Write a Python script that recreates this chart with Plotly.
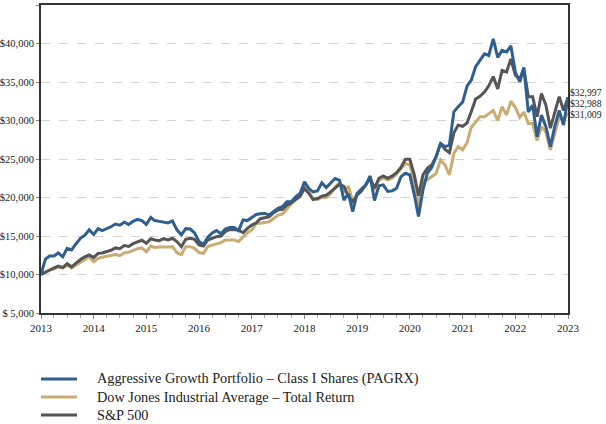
import pandas as pd
import plotly.graph_objects as go

dates = pd.date_range(start="2013-01-01", periods=121, freq="MS")

pagrx = [10000, 12000, 12400, 12400, 12800, 12300, 13400, 13200, 14000, 14700, 15100, 15800,
         15200, 15950, 15700, 15950, 16200, 16550, 16400, 16800, 16500, 16900, 17150, 17000,
         16500, 17400, 17000, 16900, 16850, 16700, 16950, 15800, 15150, 15950, 15900, 15400,
         14300, 13900, 14800, 15400, 15700, 15300, 15900, 16100, 16100, 15700, 17100, 17000,
         17400, 17800, 17900, 17930, 17720, 18150, 18580, 18800, 19440, 19440, 20090, 20520,
         22030, 21160, 20730, 20860, 21900, 21300, 21810, 22460, 22240, 19660, 20520, 18150,
         20520, 21160, 21600, 22800, 19610, 21510, 21640, 20780, 20860, 21210, 22720, 23150,
         22930, 20350, 17540, 21000, 23150, 23920, 25300, 27030, 26600, 26810, 31120, 31800,
         32400, 34500, 35200, 37000, 37800, 38650, 38450, 40600, 38200, 39100, 38900, 39700,
         36300, 35000, 36900, 31100, 32000, 27900, 30700, 29200, 26600, 29200, 31300, 29400,
         32997]

djia = [10000, 10300, 10600, 10750, 10950, 10850, 11200, 10850, 11200, 11600, 11950, 12300,
        11650, 12100, 12250, 12350, 12500, 12600, 12450, 12800, 12900, 13150, 13350, 13450,
        12950, 13700, 13520, 13570, 13620, 13580, 13620, 12830, 12580, 13620, 13620, 13400,
        12850, 12760, 13620, 13840, 13970, 14140, 14480, 14480, 14480, 14270, 14910, 15430,
        15780, 16640, 16650, 16720, 16850, 17280, 17720, 17850, 18580, 19140, 19740, 20090,
        21470, 20600, 19870, 19740, 20000, 20000, 20520, 21380, 21900, 20730, 21470, 19440,
        20520, 21160, 21600, 22590, 20990, 22280, 22500, 22280, 22500, 23060, 23790, 24440,
        24220, 22070, 18840, 22070, 22280, 22720, 23150, 24870, 24220, 22930, 25730, 26600,
        26200, 27150, 29100, 29800, 30500, 30500, 30900, 31300, 30000, 31800, 30700, 32500,
        31700, 30400, 31100, 29600, 29600, 27400, 29200, 28500, 26200, 28500, 30500, 30000,
        31009]

sp500 = [10000, 10250, 10550, 10850, 11100, 10900, 11400, 11000, 11500, 11950, 12300, 12550,
         12200, 12750, 12800, 12950, 13150, 13450, 13350, 13750, 13650, 14000, 14250, 14450,
         14050, 14650, 14480, 14400, 14650, 14480, 14700, 14270, 13620, 14570, 14700, 14570,
         13840, 13700, 14480, 14700, 14910, 15000, 15560, 15860, 15780, 15780, 15430, 15990,
         16420, 16720, 17250, 17410, 17500, 18020, 18360, 18450, 19010, 19310, 19740, 20170,
         21160, 20520, 19740, 19870, 20170, 20300, 20730, 21290, 21720, 21460, 20170, 19440,
         20300, 20860, 21700, 22500, 21210, 22500, 22800, 22500, 22800, 23230, 23920, 24960,
         24960, 22930, 20220, 22930, 23790, 24220, 25300, 27030, 26250, 25820, 28400, 29400,
         29250, 29700, 31100, 32800, 33150, 33700, 34500, 35700, 34100, 36500, 36300, 38000,
         35900, 35400, 36700, 33100, 33100, 30500, 33500, 32000, 29000, 30900, 33100, 31300,
         32988]

names = ["Aggressive Growth Portfolio \u2013 Class I Shares (PAGRX)",
         "Dow Jones Industrial Average \u2013 Total Return",
         "S&P 500"]
colors = ["#2f5f8f", "#c9ab74", "#555555"]

ytick_vals = [5000, 10000, 15000, 20000, 25000, 30000, 35000, 40000, 45000]
ytick_text = ["$ 5,000", "$10,000", "$15,000", "$20,000", "$25,000",
              "$30,000", "$35,000", "$40,000", "$45,000"]
xtick_vals = [f"{y}-01-01" for y in range(2013, 2024)]
xtick_text = [str(y) for y in range(2013, 2024)]

FONT = "Liberation Serif"

fig = go.Figure()
series = [(djia, 1), (sp500, 2), (pagrx, 0)]
for vals, k in series:
    fig.add_trace(go.Scatter(x=dates, y=vals, mode="lines", name=names[k],
                             line=dict(color=colors[k], width=3),
                             showlegend=False, cliponaxis=False))

# end-value labels
end_labels = [(pagrx, "$32,997", 5), (sp500, "$32,988", -6), (djia, "$31,009", -1.5)]
for vals, txt, shift in end_labels:
    fig.add_annotation(x=dates[-1], y=vals[-1], text=txt, showarrow=False,
                       xanchor="left", yanchor="middle", xshift=1, yshift=shift,
                       borderpad=0,
                       font=dict(family=FONT, size=9.7, color="#222"))

# legend below the plot (drawn as line samples + labels)
PLOT_W, PLOT_H = 527, 308
legend_rows = [379, 397, 415]
for k, row in enumerate(legend_rows):
    py = -(row - 313) / PLOT_H
    fig.add_shape(type="line", xref="paper", yref="paper",
                  x0=0, x1=36 / PLOT_W, y0=py, y1=py,
                  line=dict(color=colors[k], width=3))
    fig.add_annotation(xref="paper", yref="paper", x=54 / PLOT_W, y=py,
                       text=names[k], showarrow=False, xanchor="left", yanchor="middle",
                       font=dict(family=FONT, size=14.3, color="#222"))

fig.update_layout(
    width=606, height=424,
    margin=dict(l=41, r=38, t=5, b=111, autoexpand=False),
    paper_bgcolor="white", plot_bgcolor="white",
    font=dict(family=FONT, color="#222"),
    showlegend=False,
)
fig.update_xaxes(
    type="date", range=["2013-01-01", "2023-01-01"],
    tickvals=xtick_vals, ticktext=xtick_text, automargin=False,
    showgrid=False, showline=True, linecolor="#333", linewidth=2, mirror=True,
    ticks="outside", ticklen=4, tickcolor="#888",
    minor=dict(dtick="M3", ticks="outside", ticklen=3, tickcolor="#aaa", showgrid=False),
    tickfont=dict(family=FONT, size=11, color="#222"),
    zeroline=False,
)
fig.update_yaxes(
    range=[5000, 45000], tickvals=ytick_vals, ticktext=ytick_text, automargin=False,
    showgrid=True, gridcolor="#d4d4d4", griddash="dash", gridwidth=1,
    showline=True, linecolor="#333", linewidth=2, mirror=True,
    ticks="outside", ticklen=3, tickcolor="#888",
    tickfont=dict(family=FONT, size=10.5, color="#222"),
    zeroline=False,
)

fig.write_html("out.html",
               config={"displayModeBar": False},
               post_script="document.body.style.margin='0px';document.body.style.overflow='hidden';")
